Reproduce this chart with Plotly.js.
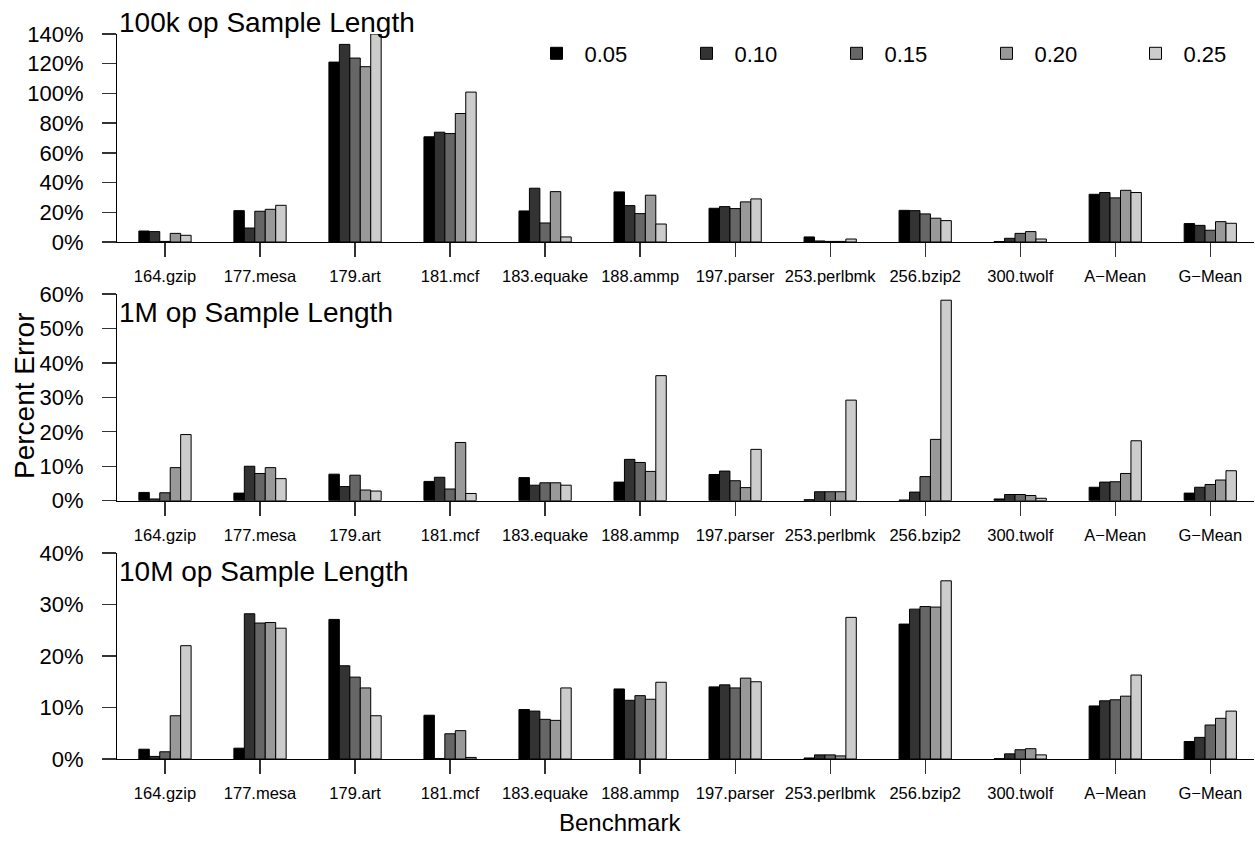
<!DOCTYPE html>
<html>
<head>
<meta charset="utf-8">
<script src="https://cdn.plot.ly/plotly-3.0.1.min.js"></script>
<style>html,body{margin:0;padding:0;background:#fff;}#chart{width:1255px;height:848px;}</style>
</head>
<body>
<div id="chart"></div>
<script>
const categories = ['164.gzip','177.mesa','179.art','181.mcf','183.equake','188.ammp','197.parser','253.perlbmk','256.bzip2','300.twolf','A\u2212Mean','G\u2212Mean'];
const seriesNames = ['0.05','0.10','0.15','0.20','0.25'];
const seriesColors = ['#000000','#333333','#666666','#999999','#cccccc'];
const panelTitles = ['100k op Sample Length','1M op Sample Length','10M op Sample Length'];

// 100k op sample length
const k100_005 = [7.4, 21.1, 121.1, 70.8, 20.9, 33.7, 22.7, 3.4, 21.3, 0.3, 32.1, 12.4];
const k100_010 = [7.0, 9.4, 133.0, 73.9, 36.2, 24.5, 23.8, 0.7, 21.1, 2.5, 33.3, 11.2];
const k100_015 = [0.4, 20.7, 123.8, 73.0, 12.8, 19.1, 22.5, 0.4, 18.9, 5.8, 29.7, 7.9];
const k100_020 = [5.8, 22.0, 118.0, 86.5, 33.9, 31.5, 27.0, 0.4, 16.0, 7.0, 34.8, 13.7];
const k100_025 = [4.5, 24.7, 140.0, 100.9, 3.4, 12.1, 29.0, 2.0, 14.4, 2.0, 33.3, 12.6];

// 1M op sample length
const m1_005 = [2.4, 2.2, 7.7, 5.6, 6.7, 5.4, 7.6, 0.3, 0.2, 0.5, 3.9, 2.2];
const m1_010 = [0.5, 10.0, 4.1, 6.8, 4.5, 12.0, 8.6, 2.6, 2.5, 1.8, 5.4, 3.9];
const m1_015 = [2.3, 7.9, 7.4, 3.4, 5.2, 11.1, 5.8, 2.6, 7.0, 1.8, 5.5, 4.7];
const m1_020 = [9.6, 9.6, 3.1, 16.9, 5.2, 8.5, 3.8, 2.6, 17.8, 1.5, 7.9, 6.0];
const m1_025 = [19.2, 6.4, 2.8, 2.1, 4.5, 36.3, 14.9, 29.2, 58.2, 0.7, 17.4, 8.7];

// 10M op sample length
const m10_005 = [1.9, 2.1, 27.1, 8.5, 9.6, 13.6, 14.0, 0.2, 26.2, 0.05, 10.3, 3.4];
const m10_010 = [0.5, 28.2, 18.1, 0.1, 9.3, 11.4, 14.4, 0.8, 29.1, 1.0, 11.3, 4.2];
const m10_015 = [1.4, 26.4, 15.9, 4.9, 7.7, 12.3, 13.8, 0.8, 29.6, 1.8, 11.5, 6.6];
const m10_020 = [8.4, 26.5, 13.8, 5.5, 7.5, 11.6, 15.7, 0.6, 29.5, 2.0, 12.2, 7.9];
const m10_025 = [22.0, 25.4, 8.4, 0.3, 13.8, 14.9, 15.0, 27.5, 34.6, 0.8, 16.3, 9.3];

const panels = [
  {series: [k100_005, k100_010, k100_015, k100_020, k100_025], range: [0, 140], dtick: 20},
  {series: [m1_005, m1_010, m1_015, m1_020, m1_025], range: [0, 60], dtick: 10},
  {series: [m10_005, m10_010, m10_015, m10_020, m10_025], range: [0, 40], dtick: 10}
];

const FONT = 'Liberation Sans, Arial, Helvetica, sans-serif';
const H = 848, L = 117, R = 1, W = 1255;
const pxY = p => 1 - p / H;
const pxX = p => (p - L) / (W - L - R);

// pixel extents of each panel (top, bottom)
const panelPx = [[34, 242], [294, 500.7], [553, 759]];
const titlePx = [22.5, 312.7, 571.8];

const traces = [];
panels.forEach((pn, pi) => {
  const ax = pi === 0 ? '' : String(pi + 1);
  pn.series.forEach((vals, si) => {
    traces.push({
      type: 'bar',
      x: categories,
      y: vals,
      name: seriesNames[si],
      xaxis: 'x' + ax,
      yaxis: 'y' + ax,
      marker: {color: seriesColors[si], line: {color: '#000', width: 1}},
      showlegend: pi === 0,
      legend: si === 4 ? 'legend2' : 'legend',
      legendgroup: seriesNames[si],
      hoverinfo: 'skip'
    });
  });
});

const legendCommon = {
  orientation: 'h', xanchor: 'left', y: pxY(53.5), yanchor: 'middle',
  font: {size: 22, family: FONT}, itemwidth: 46,
  bgcolor: 'rgba(0,0,0,0)', itemclick: false, traceorder: 'normal', borderwidth: 0
};

const layout = {
  width: W, height: H,
  margin: {l: L, r: R, t: 0, b: 0},
  paper_bgcolor: '#fff', plot_bgcolor: '#fff',
  font: {family: FONT, color: '#000'},
  barmode: 'group', bargap: 0.45, bargroupgap: 0,
  showlegend: true,
  legend: Object.assign({}, legendCommon, {x: pxX(528.5), entrywidth: 89, entrywidthmode: 'pixels'}),
  legend2: Object.assign({}, legendCommon, {x: pxX(1127.5)}),
  annotations: []
};

panels.forEach((pn, pi) => {
  const ax = pi === 0 ? '' : String(pi + 1);
  const dom = [pxY(panelPx[pi][1]), pxY(panelPx[pi][0])];
  layout['xaxis' + ax] = {
    type: 'category', categoryorder: 'array', categoryarray: categories,
    range: [-0.505, 11.46], anchor: 'y' + ax, domain: [0, 1],
    showline: true, linecolor: '#000', linewidth: 1,
    ticks: 'outside', ticklen: 14, tickcolor: '#333', tickwidth: 1.3,
    tickfont: {size: 16.5, family: FONT, color: '#000'}, ticklabelstandoff: 5,
    showgrid: false, zeroline: false, fixedrange: true, tickangle: 0
  };
  layout['yaxis' + ax] = {
    range: pn.range, dtick: pn.dtick, tick0: 0, ticksuffix: '%',
    anchor: 'x' + ax, domain: dom,
    showline: true, linecolor: '#000', linewidth: 1,
    ticks: 'outside', ticklen: 14, tickcolor: '#333', tickwidth: 1.3,
    tickfont: {size: 22, family: FONT, color: '#000'}, ticklabelstandoff: 14,
    showgrid: false, zeroline: false, fixedrange: true
  };
  layout.annotations.push({
    text: panelTitles[pi], xref: 'paper', yref: 'paper',
    x: 0, xanchor: 'left', y: pxY(titlePx[pi]), yanchor: 'middle',
    showarrow: false, font: {size: 28, family: FONT, color: '#000'}
  });
});

layout.annotations.push({
  text: 'Percent Error', xref: 'paper', yref: 'paper',
  x: pxX(24), xanchor: 'center', y: pxY(396), yanchor: 'middle',
  textangle: -90, showarrow: false, font: {size: 28, family: FONT, color: '#000'}
});
layout.annotations.push({
  text: 'Benchmark', xref: 'paper', yref: 'paper',
  x: pxX(620), xanchor: 'center', y: pxY(822), yanchor: 'middle',
  showarrow: false, font: {size: 24, family: FONT, color: '#000'}
});

Plotly.newPlot('chart', traces, layout, {staticPlot: true, displayModeBar: false});
</script>
</body>
</html>
